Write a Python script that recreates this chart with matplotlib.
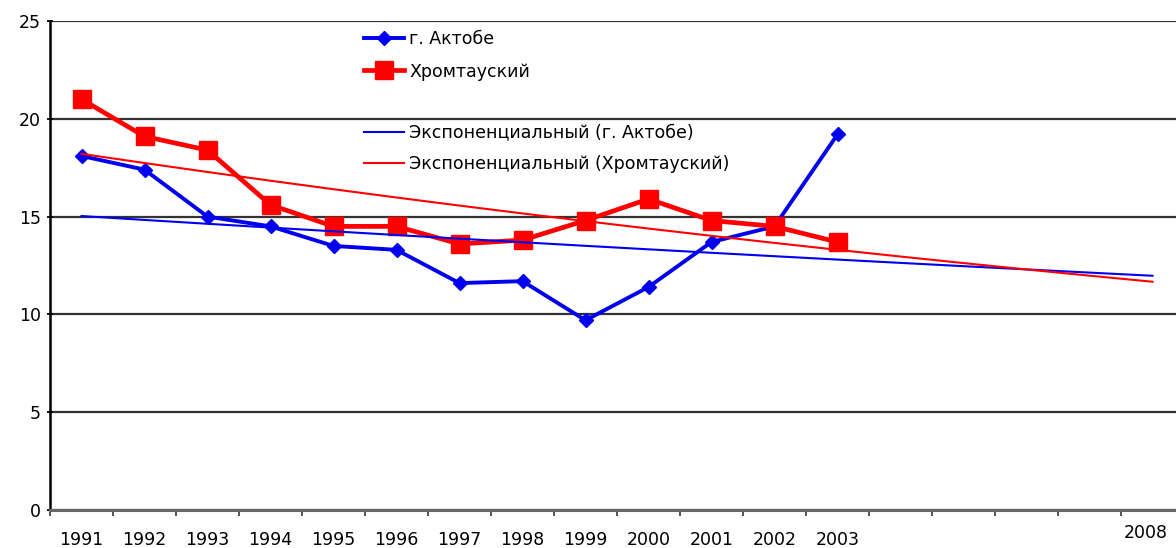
import numpy as np
import matplotlib.pyplot as plt
from matplotlib.lines import Line2D

plt.rcParams['font.family'] = ['DejaVu Sans']

years = [str(y) for y in range(1991, 2009)]
year_labels = ['1991', '1992', '1993', '1994', '1995', '1996', '1997', '1998',
               '1999', '2000', '2001', '2002', '2003', '', '', '', '', '2008']
aktobe = [18.1, 17.4, 15.0, 14.5, 13.5, 13.3, 11.6, 11.7, 9.7, 11.4, 13.7, 14.5, 19.2]
khromtau = [21.0, 19.1, 18.4, 15.6, 14.5, 14.5, 13.6, 13.8, 14.8, 15.9, 14.8, 14.5, 13.7]

blue = '#0000ee'
red = '#ff0000'
fs = 12.5

fig = plt.figure(figsize=(11.76, 5.48), dpi=100)
ax = fig.add_axes([50 / 1176, 38 / 548, 1134 / 1176, 489 / 548])

x_all = np.arange(len(years))
x_dat = np.arange(len(aktobe))


def exp_trend(vals):
    # excel style exponential trend: fit ln(y) linearly
    b, a = np.polyfit(x_dat + 1, np.log(vals), 1)
    return np.exp(a + b * (x_all + 1))


ax.plot(x_dat, aktobe, color=blue, lw=2.8, marker='D', ms=7, zorder=3)
ax.plot(x_dat, khromtau, color=red, lw=3.4, marker='s', ms=13, zorder=3)
ax.plot(x_all, exp_trend(aktobe), color=blue, lw=1.5, zorder=4)
ax.plot(x_all, exp_trend(khromtau), color=red, lw=1.5, zorder=4)

ax.set_xlim(-0.5, len(years) - 0.5)
ax.set_ylim(0, 25)
ax.set_yticks(range(0, 26, 5))
ax.yaxis.grid(True, color='#333333', lw=1.6)
ax.set_axisbelow(True)

# last label sits a bit higher and to the left in the original
ax.set_xticks(x_all)
ax.set_xticklabels(year_labels[:-1] + [''], fontsize=fs)
ax.annotate(year_labels[-1], xy=(x_all[-1], 0), xycoords=('data', 'axes fraction'),
            xytext=(-7, -23), textcoords='offset pixels', ha='center', va='center',
            fontsize=fs)
ax.set_xticks(np.arange(-0.5, len(years), 1.0), minor=True)
ax.tick_params(axis='x', which='major', length=0, pad=15)
ax.tick_params(axis='x', which='minor', length=4, width=1.3, color='#444444')
ax.tick_params(axis='y', length=5, width=1.3, direction='inout', labelsize=fs, pad=4)

for s in ['top', 'right']:
    ax.spines[s].set_visible(False)
ax.spines['left'].set_linewidth(1.8)
ax.spines['bottom'].set_linewidth(2.2)
ax.spines['bottom'].set_color('#666666')

h1 = [Line2D([], [], color=blue, lw=2.8, marker='D', ms=7),
      Line2D([], [], color=red, lw=3.4, marker='s', ms=13)]
leg1 = ax.legend(h1, ['г. Актобе', 'Хромтауский'], loc='upper left',
                 bbox_to_anchor=(0.263, 1.014), frameon=False, fontsize=fs,
                 handlelength=2.3, handletextpad=0.3, labelspacing=0.85)
ax.add_artist(leg1)
h2 = [Line2D([], [], color=blue, lw=1.5), Line2D([], [], color=red, lw=1.5)]
ax.legend(h2, ['Экспоненциальный (г. Актобе)', 'Экспоненциальный (Хромтауский)'],
          loc='upper left', bbox_to_anchor=(0.263, 0.822), frameon=False,
          fontsize=fs, handlelength=2.3, handletextpad=0.3, labelspacing=0.75)

fig.savefig('out.png', dpi=100)
